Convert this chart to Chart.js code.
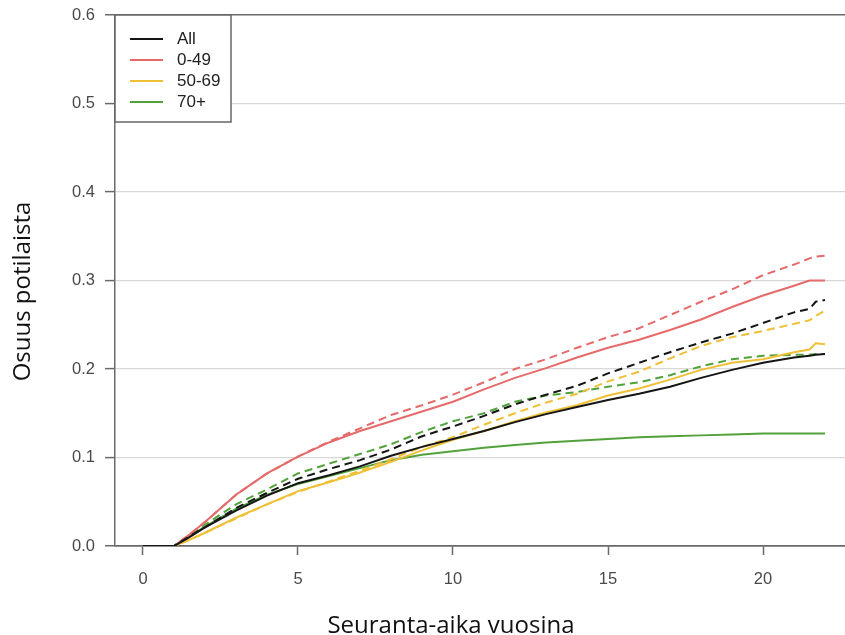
<!DOCTYPE html>
<html>
<head>
<meta charset="utf-8">
<title>Osuus potilaista</title>
<script src="https://cdn.jsdelivr.net/npm/chart.js@4/dist/chart.umd.min.js"></script>
<style>
  html, body { margin: 0; padding: 0; background: #fff; }
  #chart { display: block; }
</style>
</head>
<body>
<canvas id="chart" width="845" height="635"></canvas>
<script>
// follow-up time in years (shared by every curve)
const years = [0, 1, 1.5, 2, 3, 4, 5, 6, 7, 8, 9, 10, 11, 12, 13, 14, 15, 16, 17, 18, 19, 20, 21, 21.5, 21.7, 22];

// cumulative share, solid = first curve, dashed = second curve
const allSolid    = [0, 0, 0.010, 0.021, 0.040, 0.057, 0.071, 0.080, 0.090, 0.102, 0.112, 0.121, 0.130, 0.140, 0.149, 0.157, 0.165, 0.172, 0.180, 0.190, 0.199, 0.207, 0.213, 0.215, 0.216, 0.217];
const allDashed   = [0, 0, 0.011, 0.021, 0.043, 0.060, 0.076, 0.087, 0.097, 0.109, 0.124, 0.135, 0.147, 0.160, 0.171, 0.181, 0.195, 0.207, 0.219, 0.230, 0.240, 0.252, 0.264, 0.268, 0.276, 0.278];
const youngSolid  = [0, 0, 0.013, 0.027, 0.058, 0.082, 0.101, 0.117, 0.130, 0.141, 0.152, 0.163, 0.177, 0.190, 0.201, 0.213, 0.224, 0.233, 0.244, 0.256, 0.270, 0.283, 0.294, 0.300, 0.300, 0.300];
const youngDashed = [0, 0, 0.013, 0.027, 0.058, 0.082, 0.101, 0.118, 0.133, 0.148, 0.159, 0.171, 0.185, 0.200, 0.211, 0.224, 0.236, 0.246, 0.261, 0.276, 0.290, 0.306, 0.318, 0.325, 0.327, 0.328];
const midSolid    = [0, 0, 0.007, 0.015, 0.032, 0.047, 0.062, 0.072, 0.083, 0.095, 0.108, 0.120, 0.130, 0.141, 0.151, 0.159, 0.170, 0.178, 0.188, 0.199, 0.207, 0.211, 0.219, 0.222, 0.229, 0.228];
const midDashed   = [0, 0, 0.007, 0.015, 0.031, 0.047, 0.061, 0.073, 0.085, 0.098, 0.112, 0.123, 0.137, 0.150, 0.162, 0.172, 0.186, 0.197, 0.212, 0.226, 0.236, 0.243, 0.251, 0.255, 0.260, 0.266];
const oldSolid    = [0, 0, 0.011, 0.022, 0.042, 0.058, 0.070, 0.079, 0.088, 0.097, 0.103, 0.107, 0.111, 0.114, 0.117, 0.119, 0.121, 0.123, 0.124, 0.125, 0.126, 0.127, 0.127, 0.127, 0.127, 0.127];
const oldDashed   = [0, 0, 0.012, 0.024, 0.047, 0.064, 0.082, 0.093, 0.104, 0.115, 0.129, 0.141, 0.150, 0.163, 0.170, 0.174, 0.180, 0.185, 0.193, 0.203, 0.211, 0.215, 0.216, 0.216, 0.217, 0.217];

const legendLabels = ["All", "0-49", "50-69", "70+"];
const legendColors = ["#151515", "#e66a6a", "#efbf35", "#52a23c"];
const xTicks = [0, 5, 10, 15, 20];
const yTicks = [0, 0.1, 0.2, 0.3, 0.4, 0.5, 0.6];
const xTitle = "Seuranta-aika vuosina";
const yTitle = "Osuus potilaista";

function toPoints(values) {
  return years.map(function (t, i) { return { x: t, y: values[i] }; });
}

function series(label, values, color, dashed) {
  return {
    label: label,
    data: toPoints(values),
    borderColor: color,
    borderWidth: 2,
    borderDash: dashed ? [8, 5] : [],
    pointRadius: 0,
    tension: 0,
    fill: false
  };
}

// legend box drawn in the top-left corner of the plot, like the R output
const boxLegend = {
  id: "boxLegend",
  afterDraw: function (chart) {
    var ctx = chart.ctx, a = chart.chartArea;
    var x0 = a.left, y0 = a.top;
    ctx.save();
    ctx.fillStyle = "#fff";
    ctx.fillRect(x0, y0, 116, 107);
    ctx.strokeStyle = "#666";
    ctx.lineWidth = 1.5;
    ctx.strokeRect(x0, y0, 116, 107);
    ctx.font = '17px "Liberation Sans", Arial, sans-serif';
    ctx.textBaseline = "middle";
    legendLabels.forEach(function (lab, i) {
      var y = y0 + 24 + i * 21;
      ctx.strokeStyle = legendColors[i];
      ctx.lineWidth = 2;
      ctx.beginPath();
      ctx.moveTo(x0 + 15, y);
      ctx.lineTo(x0 + 48, y);
      ctx.stroke();
      ctx.fillStyle = "#222";
      ctx.fillText(lab, x0 + 62, y);
    });
    ctx.restore();
  }
};

// axis titles, placed a little off-centre as in the original figure
const axisTitles = {
  id: "axisTitles",
  afterDraw: function (chart) {
    var ctx = chart.ctx, a = chart.chartArea;
    ctx.save();
    ctx.fillStyle = "#111";
    ctx.font = '24px "Open Sans", sans-serif';
    ctx.textAlign = "center";
    ctx.textBaseline = "alphabetic";
    ctx.fillText(xTitle, (a.left + a.right) / 2 - 29, chart.height - 2);
    ctx.translate(a.left - 85, (a.top + a.bottom) / 2 + 11);
    ctx.rotate(-Math.PI / 2);
    ctx.fillText(yTitle, 0, 0);
    ctx.restore();
  }
};

function fixWidth(w) {
  return function (scale) {
    scale.width = w;
    scale.paddingTop = 0;
    scale.paddingBottom = 0;
  };
}
function fixHeight(h) {
  return function (scale) {
    scale.height = h;
    scale.paddingLeft = 0;
    scale.paddingRight = 0;
  };
}

new Chart(document.getElementById("chart"), {
  type: "line",
  data: {
    datasets: [
      series("All", allSolid, legendColors[0], false),
      series("All (2)", allDashed, legendColors[0], true),
      series("0-49", youngSolid, legendColors[1], false),
      series("0-49 (2)", youngDashed, legendColors[1], true),
      series("50-69", midSolid, legendColors[2], false),
      series("50-69 (2)", midDashed, legendColors[2], true),
      series("70+", oldSolid, legendColors[3], false),
      series("70+ (2)", oldDashed, legendColors[3], true)
    ]
  },
  options: {
    responsive: false,
    animation: false,
    devicePixelRatio: 1,
    layout: { padding: { top: 15, right: 0, left: 0, bottom: 0 } },
    plugins: {
      legend: { display: false },
      tooltip: { enabled: false }
    },
    scales: {
      x: {
        type: "linear",
        position: "bottom",
        min: -0.903,
        max: 22.645,
        afterBuildTicks: function (scale) {
          scale.ticks = xTicks.map(function (v) { return { value: v }; });
        },
        afterFit: fixHeight(89),
        border: { display: true, color: "#6a6a6a", width: 1.5 },
        grid: { drawOnChartArea: false, drawTicks: true, tickLength: 9, tickColor: "#6a6a6a", tickWidth: 1.5 },
        ticks: {
          font: { family: '"Liberation Sans", Arial, sans-serif', size: 16.5 },
          color: "#4a4a4a",
          padding: 15,
          maxRotation: 0
        }
      },
      y: {
        min: 0,
        max: 0.6,
        afterBuildTicks: function (scale) {
          scale.ticks = yTicks.map(function (v) { return { value: v }; });
        },
        afterFit: fixWidth(115),
        border: { display: true, color: "#6a6a6a", width: 1.5 },
        grid: {
          color: function (c) {
            var v = c.tick ? c.tick.value : 0;
            return (v >= 0.59 || v <= 0.01) ? "#6a6a6a" : "#d8d8d8";
          },
          lineWidth: function (c) {
            var v = c.tick ? c.tick.value : 0;
            return (v >= 0.59 || v <= 0.01) ? 1.5 : 1.2;
          },
          tickLength: 10,
          tickColor: "#6a6a6a",
          tickWidth: 1.5
        },
        ticks: {
          font: { family: '"Liberation Sans", Arial, sans-serif', size: 16.5 },
          color: "#4a4a4a",
          padding: 10,
          callback: function (v) { return Number(v).toFixed(1); }
        }
      }
    }
  },
  plugins: [boxLegend, axisTitles]
});
</script>
</body>
</html>
